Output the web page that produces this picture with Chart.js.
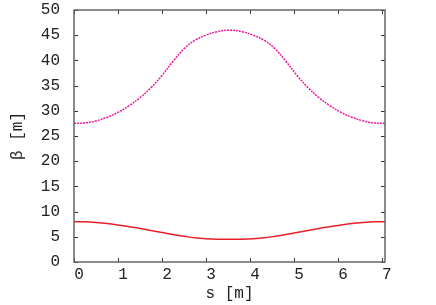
<!DOCTYPE html>
<html>
<head>
<meta charset="utf-8">
<script src="https://cdn.jsdelivr.net/npm/chart.js@4"></script>
<style>
  html, body { margin: 0; padding: 0; background: #fff; }
  #wrap { width: 436px; height: 305px; }
</style>
</head>
<body>
<div id="wrap"><canvas id="beta"></canvas></div>
<script>
// positions along the cell [m]
const sPos = [0, 0.25, 0.5, 0.75, 1, 1.25, 1.5, 1.75, 2, 2.25, 2.5, 2.75, 3, 3.25, 3.535,
  3.82, 4.07, 4.32, 4.57, 4.82, 5.07, 5.32, 5.57, 5.82, 6.07, 6.32, 6.57, 6.82, 7.07];
// dashed magenta curve
const betaUpper = [27.5, 27.6, 28.0, 28.7, 29.7, 31.0, 32.6, 34.6, 37.0, 39.8, 42.3, 44.0, 45.0, 45.7, 46.0,
  45.7, 45.0, 44.0, 42.3, 39.8, 37.0, 34.6, 32.6, 31.0, 29.7, 28.7, 28.0, 27.6, 27.5];
// solid red curve
const betaLower = [8.0, 7.98, 7.85, 7.65, 7.35, 7.0, 6.65, 6.25, 5.85, 5.45, 5.1, 4.8, 4.62, 4.52, 4.5,
  4.52, 4.62, 4.8, 5.1, 5.45, 5.85, 6.25, 6.65, 7.0, 7.35, 7.65, 7.85, 7.98, 8.0];
const xTicks = [0, 1, 2, 3, 4, 5, 6, 7];
const yTicks = [0, 5, 10, 15, 20, 25, 30, 35, 40, 45, 50];

const FONT = "'Liberation Mono', monospace";

// gnuplot style box with inward ticks on all four sides
const frame = {
  id: "frame",
  afterDatasetsDraw(chart) {
    const { ctx, chartArea: a, scales } = chart;
    ctx.save();
    ctx.strokeStyle = "#333";
    ctx.lineWidth = 1;
    const t = 4;
    xTicks.forEach(v => {
      const x = Math.round(scales.x.getPixelForValue(v)) + 0.5;
      ctx.beginPath();
      ctx.moveTo(x, a.bottom); ctx.lineTo(x, a.bottom - t);
      ctx.moveTo(x, a.top); ctx.lineTo(x, a.top + t);
      ctx.stroke();
    });
    yTicks.forEach(v => {
      const y = Math.round(scales.y.getPixelForValue(v)) + 0.5;
      ctx.beginPath();
      ctx.moveTo(a.left, y); ctx.lineTo(a.left + t, y);
      ctx.moveTo(a.right, y); ctx.lineTo(a.right - t, y);
      ctx.stroke();
    });
    ctx.strokeStyle = "#666";
    ctx.lineWidth = 1.5;
    ctx.strokeRect(a.left, a.top, a.right - a.left, a.bottom - a.top);
    ctx.restore();
  }
};

new Chart(document.getElementById("beta"), {
  type: "line",
  data: {
    datasets: [
      {
        data: sPos.map((s, i) => ({ x: s, y: betaUpper[i] })),
        borderColor: "#f0189a", borderWidth: 1.5, borderDash: [2, 1],
        pointRadius: 0, tension: 0.4
      },
      {
        data: sPos.map((s, i) => ({ x: s, y: betaLower[i] })),
        borderColor: "#e8202a", borderWidth: 1.5,
        pointRadius: 0, tension: 0.4
      }
    ]
  },
  options: {
    responsive: true, maintainAspectRatio: false, animation: false,
    layout: { padding: { top: 10, right: 51, left: 0, bottom: 0 } },
    plugins: { legend: { display: false }, tooltip: { enabled: false } },
    scales: {
      x: {
        type: "linear", min: 0, max: 7.07,
        afterBuildTicks: axis => { axis.ticks = xTicks.map(v => ({ value: v })); },
        afterFit: axis => { axis.height = 43; axis.paddingLeft = 0; axis.paddingRight = 0; },
        grid: { display: false }, border: { display: false },
        ticks: { padding: -5, labelOffset: 5, color: "#222", font: { family: FONT, size: 16 }, maxRotation: 0 },
        title: { display: true, text: "s [m]", color: "#222", padding: { top: 0, bottom: 2 }, font: { family: FONT, size: 16 } }
      },
      y: {
        min: 0, max: 50,
        afterBuildTicks: axis => { axis.ticks = yTicks.map(v => ({ value: v })); },
        afterFit: axis => { axis.width = 74; axis.paddingTop = 0; axis.paddingBottom = 0; },
        grid: { display: false }, border: { display: false },
        ticks: { padding: 6, color: "#222", font: { family: FONT, size: 16 } },
        title: { display: true, text: "β [m]", color: "#222", padding: { top: 8, bottom: 0 }, font: { family: FONT, size: 16 } }
      }
    }
  },
  plugins: [frame]
});
</script>
</body>
</html>
